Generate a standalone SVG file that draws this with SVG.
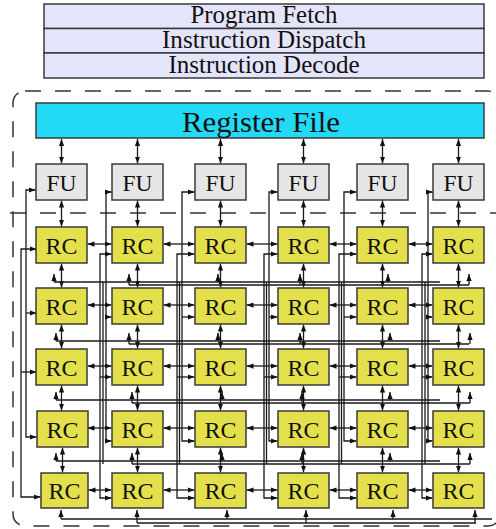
<svg xmlns="http://www.w3.org/2000/svg" width="496" height="529" viewBox="0 0 496 529">
<defs>
<style>
.box{stroke:#3a3a3a;stroke-width:1.5}
.pl{fill:#e4e4fb}
.rf{fill:#22d9f6}
.fu{fill:#e6e6e6}
.rc{fill:#e4e04b}
.t{font-family:'Liberation Serif','Times New Roman',serif;fill:#111;text-anchor:middle}
.ts{font-size:25px}
.tn{font-size:23px}
.w{stroke:#1a1a1a;stroke-width:1.3;fill:none}
.a2{marker-start:url(#ah);marker-end:url(#ah)}
.a1{marker-end:url(#ah)}
.dash{fill:none;stroke:#333;stroke-width:1.5;stroke-dasharray:16 14}
</style>
<marker id="ah" viewBox="0 0 8 6" refX="8" refY="3" markerWidth="7" markerHeight="5.5" markerUnits="userSpaceOnUse" orient="auto-start-reverse"><path d="M0,0 L8,3 L0,6 z" fill="#111"/></marker>
</defs>
<rect width="496" height="529" fill="#fff"/>

<g id="program-fetch"><rect class="box pl" x="44" y="4" width="440" height="24.5"/><text class="t ts" x="264" y="23" textLength="147" lengthAdjust="spacingAndGlyphs">Program Fetch</text></g>
<g id="instruction-dispatch"><rect class="box pl" x="44" y="28.5" width="440" height="24.5"/><text class="t ts" x="264" y="48" textLength="204" lengthAdjust="spacingAndGlyphs">Instruction Dispatch</text></g>
<g id="instruction-decode"><rect class="box pl" x="44" y="53" width="440" height="25"/><text class="t ts" x="264" y="72.5" textLength="191" lengthAdjust="spacingAndGlyphs">Instruction Decode</text></g>

<g id="boundary">
<rect class="dash" x="13" y="91" width="487" height="435" rx="12"/>
<line class="dash" x1="10" y1="213" x2="496" y2="213"/>
</g>

<g id="register-file"><rect class="box rf" x="36" y="103" width="448" height="35"/><text class="t" style="font-size:30px" x="261" y="132" textLength="158" lengthAdjust="spacingAndGlyphs">Register File</text></g>

<g id="fu-0"><rect class="box fu" x="36" y="164" width="51" height="36"/><text class="t tn" x="61.5" y="191" textLength="30" lengthAdjust="spacingAndGlyphs">FU</text></g>
<g id="fu-1"><rect class="box fu" x="112" y="164" width="51" height="36"/><text class="t tn" x="137.5" y="191" textLength="30" lengthAdjust="spacingAndGlyphs">FU</text></g>
<g id="fu-2"><rect class="box fu" x="195" y="164" width="51" height="36"/><text class="t tn" x="220.5" y="191" textLength="30" lengthAdjust="spacingAndGlyphs">FU</text></g>
<g id="fu-3"><rect class="box fu" x="278" y="164" width="51" height="36"/><text class="t tn" x="303.5" y="191" textLength="30" lengthAdjust="spacingAndGlyphs">FU</text></g>
<g id="fu-4"><rect class="box fu" x="357" y="164" width="51" height="36"/><text class="t tn" x="382.5" y="191" textLength="30" lengthAdjust="spacingAndGlyphs">FU</text></g>
<g id="fu-5"><rect class="box fu" x="433" y="164" width="51" height="36"/><text class="t tn" x="458.5" y="191" textLength="30" lengthAdjust="spacingAndGlyphs">FU</text></g>

<g id="connectors">
<path class="w a2" d="M61.5,139 V163.5"/><path class="w a2" d="M137.5,139 V163.5"/><path class="w a2" d="M220.5,139 V163.5"/><path class="w a2" d="M303.5,139 V163.5"/><path class="w a2" d="M382.5,139 V163.5"/><path class="w a2" d="M458.5,139 V163.5"/>
<path class="w a2" d="M61.5,200.5 V226.5"/><path class="w a2" d="M137.5,200.5 V226.5"/><path class="w a2" d="M220.5,200.5 V226.5"/><path class="w a2" d="M303.5,200.5 V226.5"/><path class="w a2" d="M382.5,200.5 V226.5"/><path class="w a2" d="M458.5,200.5 V226.5"/>
<path class="w a2" d="M61.5,263.5 V287.5"/><path class="w a2" d="M137.5,263.5 V287.5"/><path class="w a2" d="M220.5,263.5 V287.5"/><path class="w a2" d="M303.5,263.5 V287.5"/><path class="w a2" d="M382.5,263.5 V287.5"/><path class="w a2" d="M458.5,263.5 V287.5"/>
<path class="w a2" d="M61.5,324.5 V348.5"/><path class="w a2" d="M137.5,324.5 V348.5"/><path class="w a2" d="M220.5,324.5 V348.5"/><path class="w a2" d="M303.5,324.5 V348.5"/><path class="w a2" d="M382.5,324.5 V348.5"/><path class="w a2" d="M458.5,324.5 V348.5"/>
<path class="w a2" d="M61.5,385.5 V410.5"/><path class="w a2" d="M137.5,385.5 V410.5"/><path class="w a2" d="M220.5,385.5 V410.5"/><path class="w a2" d="M303.5,385.5 V410.5"/><path class="w a2" d="M382.5,385.5 V410.5"/><path class="w a2" d="M458.5,385.5 V410.5"/>
<path class="w a2" d="M62.5,447.5 V472.5"/><path class="w a2" d="M137.5,447.5 V472.5"/><path class="w a2" d="M220.5,447.5 V472.5"/><path class="w a2" d="M303.5,447.5 V472.5"/><path class="w a2" d="M382.5,447.5 V472.5"/><path class="w a2" d="M458.5,447.5 V472.5"/>
<path class="w a2" d="M87.5,244 H111.5"/><path class="w a2" d="M163.5,244 H194.5"/><path class="w a2" d="M246.5,244 H277.5"/><path class="w a2" d="M329.5,244 H356.5"/><path class="w a2" d="M408.5,244 H432.5"/>
<path class="w a2" d="M87.5,305 H111.5"/><path class="w a2" d="M163.5,305 H194.5"/><path class="w a2" d="M246.5,305 H277.5"/><path class="w a2" d="M329.5,305 H356.5"/><path class="w a2" d="M408.5,305 H432.5"/>
<path class="w a2" d="M87.5,366 H111.5"/><path class="w a2" d="M163.5,366 H194.5"/><path class="w a2" d="M246.5,366 H277.5"/><path class="w a2" d="M329.5,366 H356.5"/><path class="w a2" d="M408.5,366 H432.5"/>
<path class="w a2" d="M87.5,428 H111.5"/><path class="w a2" d="M163.5,428 H194.5"/><path class="w a2" d="M246.5,428 H277.5"/><path class="w a2" d="M329.5,428 H356.5"/><path class="w a2" d="M408.5,428 H432.5"/>
<path class="w a2" d="M88.5,490 H111.5"/><path class="w a2" d="M163.5,490 H194.5"/><path class="w a2" d="M246.5,490 H277.5"/><path class="w a2" d="M329.5,490 H356.5"/><path class="w a2" d="M408.5,490 H432.5"/>
<path class="w a2" d="M35.5,190 H26 V437 H36.5"/><path class="w a1" d="M26,313 H36.5"/>
<path class="w a2" d="M36.5,249 H21 V497 H40.5"/><path class="w a1" d="M21,372 H36.5"/>
<path class="w a2" d="M111.5,192 H106 V441 H111.5"/><path class="w a1" d="M106,317 H111.5"/>
<path class="w a2" d="M111.5,254 H100 V498 H111.5"/><path class="w a1" d="M100,377 H111.5"/>
<path class="w" d="M103,282 V464"/>
<path class="w a2" d="M194.5,192 H182 V441 H194.5"/><path class="w a1" d="M182,317 H194.5"/>
<path class="w a2" d="M194.5,254 H177 V498 H194.5"/><path class="w a1" d="M177,377 H194.5"/>
<path class="w" d="M179.5,282 V464"/>
<path class="w a2" d="M277.5,192 H269 V441 H277.5"/><path class="w a1" d="M269,317 H277.5"/>
<path class="w a2" d="M277.5,254 H264 V498 H277.5"/><path class="w a1" d="M264,377 H277.5"/>
<path class="w" d="M266.5,282 V464"/>
<path class="w a2" d="M356.5,192 H344 V441 H356.5"/><path class="w a1" d="M344,317 H356.5"/>
<path class="w a2" d="M356.5,254 H339 V498 H356.5"/><path class="w a1" d="M339,377 H356.5"/>
<path class="w" d="M341.5,282 V464"/>
<path class="w a2" d="M432.5,192 H428 V441 H432.5"/><path class="w a1" d="M428,317 H432.5"/>
<path class="w a2" d="M432.5,254 H422 V498 H432.5"/><path class="w a1" d="M422,377 H432.5"/>
<path class="w" d="M425,282 V464"/>
<path class="w" d="M54,282 H440"/><path class="w" d="M129,285 H469"/>
<path class="w a1" d="M54,282 V274"/><path class="w a1" d="M129,285 V274"/><path class="w a1" d="M218,282 V274"/><path class="w a1" d="M300,285 V274"/><path class="w a1" d="M388,282 V274"/><path class="w a1" d="M469,285 V274"/>
<path class="w" d="M56,341 H440"/><path class="w" d="M129,344 H469"/>
<path class="w a1" d="M56,341 V333"/><path class="w a1" d="M129,344 V333"/><path class="w a1" d="M218,341 V333"/><path class="w a1" d="M300,344 V333"/><path class="w a1" d="M390,341 V333"/><path class="w a1" d="M470,344 V333"/>
<path class="w" d="M56,400 H440"/><path class="w" d="M132,403 H470"/>
<path class="w a1" d="M56,400 V392"/><path class="w a1" d="M132,403 V392"/><path class="w a1" d="M222,400 V392"/><path class="w a1" d="M302,403 V392"/><path class="w a1" d="M390,400 V392"/><path class="w a1" d="M470,403 V392"/>
<path class="w" d="M56,461 H440"/><path class="w" d="M132,464 H470"/>
<path class="w a1" d="M56,461 V453"/><path class="w a1" d="M132,464 V453"/><path class="w a1" d="M222,461 V453"/><path class="w a1" d="M302,464 V453"/><path class="w a1" d="M390,461 V453"/><path class="w a1" d="M470,464 V453"/>
<path class="w" d="M61,519 H492"/><path class="w" d="M137,523 H476"/>
<path class="w a1" d="M61,519 V510"/><path class="w a1" d="M137,523 V510"/><path class="w a1" d="M227,519 V510"/><path class="w a1" d="M306,523 V510"/><path class="w a1" d="M393,519 V510"/><path class="w a1" d="M475,523 V510"/>
</g>

<g id="rc-0-0"><rect class="box rc" x="36" y="227" width="51" height="36"/><text class="t tn" x="61.5" y="254" textLength="32" lengthAdjust="spacingAndGlyphs">RC</text></g>
<g id="rc-0-1"><rect class="box rc" x="112" y="227" width="51" height="36"/><text class="t tn" x="137.5" y="254" textLength="32" lengthAdjust="spacingAndGlyphs">RC</text></g>
<g id="rc-0-2"><rect class="box rc" x="195" y="227" width="51" height="36"/><text class="t tn" x="220.5" y="254" textLength="32" lengthAdjust="spacingAndGlyphs">RC</text></g>
<g id="rc-0-3"><rect class="box rc" x="278" y="227" width="51" height="36"/><text class="t tn" x="303.5" y="254" textLength="32" lengthAdjust="spacingAndGlyphs">RC</text></g>
<g id="rc-0-4"><rect class="box rc" x="357" y="227" width="51" height="36"/><text class="t tn" x="382.5" y="254" textLength="32" lengthAdjust="spacingAndGlyphs">RC</text></g>
<g id="rc-0-5"><rect class="box rc" x="433" y="227" width="51" height="36"/><text class="t tn" x="458.5" y="254" textLength="32" lengthAdjust="spacingAndGlyphs">RC</text></g>

<g id="rc-1-0"><rect class="box rc" x="36" y="288" width="51" height="36"/><text class="t tn" x="61.5" y="315" textLength="32" lengthAdjust="spacingAndGlyphs">RC</text></g>
<g id="rc-1-1"><rect class="box rc" x="112" y="288" width="51" height="36"/><text class="t tn" x="137.5" y="315" textLength="32" lengthAdjust="spacingAndGlyphs">RC</text></g>
<g id="rc-1-2"><rect class="box rc" x="195" y="288" width="51" height="36"/><text class="t tn" x="220.5" y="315" textLength="32" lengthAdjust="spacingAndGlyphs">RC</text></g>
<g id="rc-1-3"><rect class="box rc" x="278" y="288" width="51" height="36"/><text class="t tn" x="303.5" y="315" textLength="32" lengthAdjust="spacingAndGlyphs">RC</text></g>
<g id="rc-1-4"><rect class="box rc" x="357" y="288" width="51" height="36"/><text class="t tn" x="382.5" y="315" textLength="32" lengthAdjust="spacingAndGlyphs">RC</text></g>
<g id="rc-1-5"><rect class="box rc" x="433" y="288" width="51" height="36"/><text class="t tn" x="458.5" y="315" textLength="32" lengthAdjust="spacingAndGlyphs">RC</text></g>

<g id="rc-2-0"><rect class="box rc" x="36" y="349" width="51" height="36"/><text class="t tn" x="61.5" y="376" textLength="32" lengthAdjust="spacingAndGlyphs">RC</text></g>
<g id="rc-2-1"><rect class="box rc" x="112" y="349" width="51" height="36"/><text class="t tn" x="137.5" y="376" textLength="32" lengthAdjust="spacingAndGlyphs">RC</text></g>
<g id="rc-2-2"><rect class="box rc" x="195" y="349" width="51" height="36"/><text class="t tn" x="220.5" y="376" textLength="32" lengthAdjust="spacingAndGlyphs">RC</text></g>
<g id="rc-2-3"><rect class="box rc" x="278" y="349" width="51" height="36"/><text class="t tn" x="303.5" y="376" textLength="32" lengthAdjust="spacingAndGlyphs">RC</text></g>
<g id="rc-2-4"><rect class="box rc" x="357" y="349" width="51" height="36"/><text class="t tn" x="382.5" y="376" textLength="32" lengthAdjust="spacingAndGlyphs">RC</text></g>
<g id="rc-2-5"><rect class="box rc" x="433" y="349" width="51" height="36"/><text class="t tn" x="458.5" y="376" textLength="32" lengthAdjust="spacingAndGlyphs">RC</text></g>

<g id="rc-3-0"><rect class="box rc" x="37" y="411" width="51" height="36"/><text class="t tn" x="62.5" y="438" textLength="32" lengthAdjust="spacingAndGlyphs">RC</text></g>
<g id="rc-3-1"><rect class="box rc" x="112" y="411" width="51" height="36"/><text class="t tn" x="137.5" y="438" textLength="32" lengthAdjust="spacingAndGlyphs">RC</text></g>
<g id="rc-3-2"><rect class="box rc" x="195" y="411" width="51" height="36"/><text class="t tn" x="220.5" y="438" textLength="32" lengthAdjust="spacingAndGlyphs">RC</text></g>
<g id="rc-3-3"><rect class="box rc" x="278" y="411" width="51" height="36"/><text class="t tn" x="303.5" y="438" textLength="32" lengthAdjust="spacingAndGlyphs">RC</text></g>
<g id="rc-3-4"><rect class="box rc" x="357" y="411" width="51" height="36"/><text class="t tn" x="382.5" y="438" textLength="32" lengthAdjust="spacingAndGlyphs">RC</text></g>
<g id="rc-3-5"><rect class="box rc" x="433" y="411" width="51" height="36"/><text class="t tn" x="458.5" y="438" textLength="32" lengthAdjust="spacingAndGlyphs">RC</text></g>

<g id="rc-4-0"><rect class="box rc" x="41" y="473" width="47" height="35"/><text class="t tn" x="64.5" y="499" textLength="32" lengthAdjust="spacingAndGlyphs">RC</text></g>
<g id="rc-4-1"><rect class="box rc" x="112" y="473" width="51" height="35"/><text class="t tn" x="137.5" y="499" textLength="32" lengthAdjust="spacingAndGlyphs">RC</text></g>
<g id="rc-4-2"><rect class="box rc" x="195" y="473" width="51" height="35"/><text class="t tn" x="220.5" y="499" textLength="32" lengthAdjust="spacingAndGlyphs">RC</text></g>
<g id="rc-4-3"><rect class="box rc" x="278" y="473" width="51" height="35"/><text class="t tn" x="303.5" y="499" textLength="32" lengthAdjust="spacingAndGlyphs">RC</text></g>
<g id="rc-4-4"><rect class="box rc" x="357" y="473" width="51" height="35"/><text class="t tn" x="382.5" y="499" textLength="32" lengthAdjust="spacingAndGlyphs">RC</text></g>
<g id="rc-4-5"><rect class="box rc" x="433" y="473" width="51" height="35"/><text class="t tn" x="458.5" y="499" textLength="32" lengthAdjust="spacingAndGlyphs">RC</text></g>
</svg>
